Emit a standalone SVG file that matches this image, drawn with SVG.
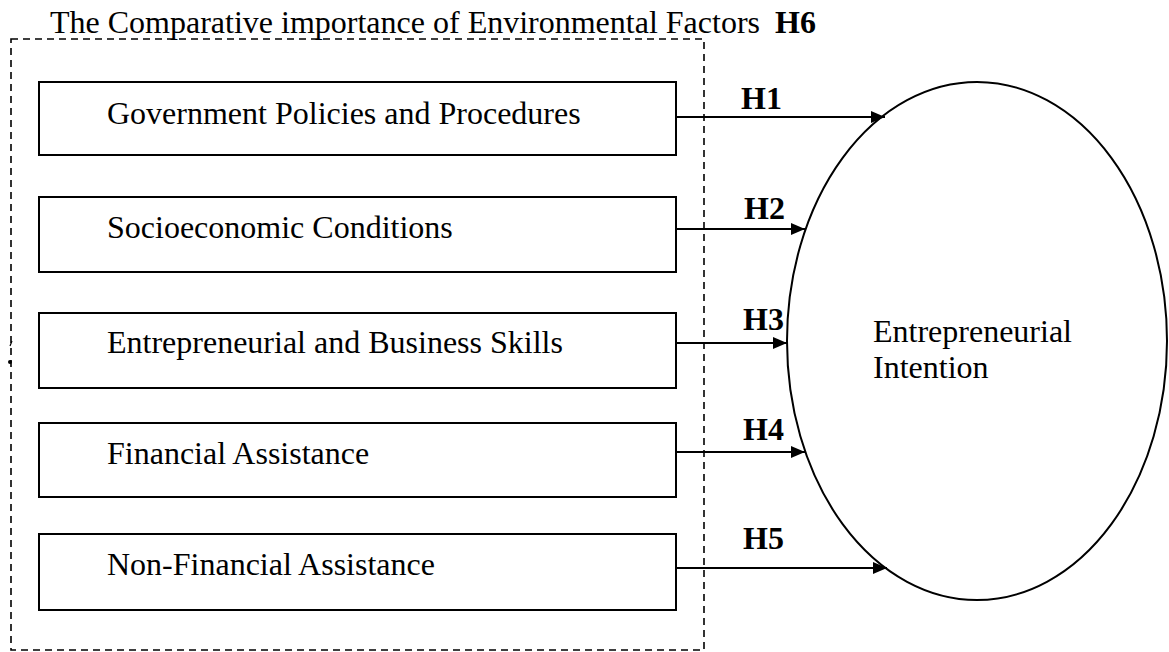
<svg xmlns="http://www.w3.org/2000/svg" width="1169" height="652" viewBox="0 0 1169 652">
  <style>
    .t { font-family: "Liberation Serif", "Times New Roman", serif; font-size: 32px; fill: #000; }
    .b { font-weight: bold; }
    .box { fill: #fff; stroke: #000; stroke-width: 2; }
    .conn { stroke: #000; stroke-width: 1.8; fill: none; }
  </style>
  <defs>
    <marker id="arrow" viewBox="0 0 14 12" refX="14" refY="6" markerWidth="14" markerHeight="12" markerUnits="userSpaceOnUse" orient="auto">
      <path d="M0,0 L14,6 L0,12 Z" fill="#000"/>
    </marker>
  </defs>
  <rect width="1169" height="652" fill="#fff"/>

  <g id="group-environment">
    <rect x="11" y="39" width="693" height="611" fill="none" stroke="#000" stroke-width="1.6" stroke-dasharray="7,5"/>
    <text class="t" x="50" y="33">The Comparative importance of Environmental Factors</text>
    <text class="t b" x="775" y="33">H6</text>
    <path d="M12,341 l-2,5" stroke="#000" stroke-width="1.2" fill="none"/>
    <circle cx="10" cy="362" r="2" fill="#000"/>
  </g>

  <g id="node-government">
    <rect class="box" x="39" y="82" width="637" height="73"/>
    <text class="t" x="107" y="124">Government Policies and Procedures</text>
  </g>
  <g id="node-socioeconomic">
    <rect class="box" x="39" y="197" width="637" height="75"/>
    <text class="t" x="107" y="238">Socioeconomic Conditions</text>
  </g>
  <g id="node-skills">
    <rect class="box" x="39" y="313" width="637" height="75"/>
    <text class="t" x="107" y="353">Entrepreneurial and Business Skills</text>
  </g>
  <g id="node-financial">
    <rect class="box" x="39" y="423" width="637" height="74"/>
    <text class="t" x="107" y="464">Financial Assistance</text>
  </g>
  <g id="node-nonfinancial">
    <rect class="box" x="39" y="534" width="637" height="76"/>
    <text class="t" x="107" y="575">Non-Financial Assistance</text>
  </g>

  <g id="node-intention">
    <ellipse cx="977" cy="341" rx="190" ry="259" fill="none" stroke="#000" stroke-width="2"/>
    <text class="t" x="873" y="342">Entrepreneurial</text>
    <text class="t" x="873" y="378">Intention</text>
  </g>

  <g id="connectors">
    <line class="conn" x1="677" y1="117" x2="885" y2="117" marker-end="url(#arrow)"/>
    <line class="conn" x1="677" y1="229" x2="805" y2="229" marker-end="url(#arrow)"/>
    <line class="conn" x1="677" y1="343" x2="787" y2="343" marker-end="url(#arrow)"/>
    <line class="conn" x1="677" y1="452" x2="805" y2="452" marker-end="url(#arrow)"/>
    <line class="conn" x1="677" y1="568" x2="887" y2="568" marker-end="url(#arrow)"/>
    <text class="t b" x="741" y="109">H1</text>
    <text class="t b" x="744" y="219">H2</text>
    <text class="t b" x="743" y="330">H3</text>
    <text class="t b" x="743" y="440">H4</text>
    <text class="t b" x="743" y="549">H5</text>
  </g>
</svg>
